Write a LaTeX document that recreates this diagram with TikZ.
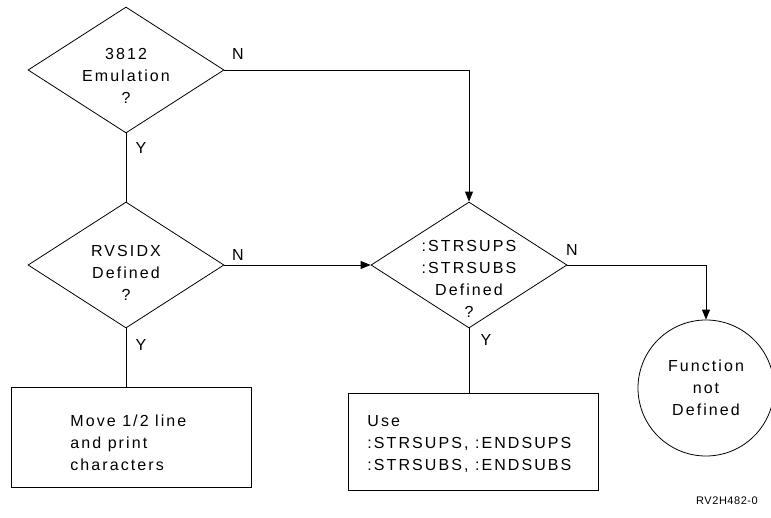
\documentclass[tikz,border=0pt]{standalone}
\usepackage{fontspec}
\setmainfont{Liberation Sans}[LetterSpace=13]
\newfontfamily\idfont{Liberation Sans}[LetterSpace=5]
\usetikzlibrary{shapes.geometric,arrows.meta}
\begin{document}
\begin{tikzpicture}[x=1pt,y=-1pt,
  line width=0.8pt,
  txt/.style={font=\fontsize{16}{22}\selectfont, align=center, inner sep=0pt},
  ltxt/.style={font=\fontsize{16}{22}\selectfont, align=left, inner sep=0pt, anchor=west},
  lbl/.style={font=\fontsize{16}{18}\selectfont, inner sep=0pt},
  dec/.style={diamond, draw, minimum width=196pt, minimum height=126pt, inner sep=0pt},
  boxx/.style={rectangle, draw, inner sep=0pt},
  arr/.style={-{Triangle[length=10pt,width=8pt]}}]
\useasboundingbox (0,0) rectangle (771,517);
% decisions
\node[dec] (d1) at (126,70) {};
\node[txt] (t1) at (126,76) {3812\\Emulation\\?};
\node[dec] (d2) at (126,265) {};
\node[txt] (t2) at (126,273) {RVSIDX\\Defined\\?};
\node[dec] (d3) at (469,265) {};
\node[txt] (t3) at (469,279) {:STRSUPS\\:STRSUBS\\Defined\\?};
% terminal circle
\node[circle, draw, minimum size=136pt, inner sep=0pt, font=\fontsize{16}{22}\selectfont, align=center] (c) at (706,388) {Function\\not\\Defined};
% boxes
\node[boxx, minimum width=240pt, minimum height=100pt] (b1) at (131,437) {};
\node[ltxt] (bt1) at (70,443) {Move 1/2 line\\and print\\characters};
\node[boxx, minimum width=250pt, minimum height=97pt] (b2) at (473,441.5) {};
\node[ltxt] (bt2) at (367,444) {Use\\:STRSUPS, :ENDSUPS\\:STRSUBS, :ENDSUBS};
% connectors
\draw[arr] (d1.east) -| (d3.north);
\draw (d1.south) -- (d2.north);
\draw[arr] (d2.east) -- (d3.west);
\draw (d2.south) -- (d2.south |- b1.north);
\draw (d3.south) -- (d3.south |- b2.north);
\draw[arr] (d3.east) -| (c.north);
% branch labels
\node[lbl] (n1) at (238,54) {N};
\node[lbl] (y1) at (141,148) {Y};
\node[lbl] (n2) at (238,255) {N};
\node[lbl] (y2) at (141,345) {Y};
\node[lbl] (n3) at (572,250) {N};
\node[lbl] (y3) at (486,340) {Y};
% figure id
\node[font=\idfont\fontsize{11}{13}\selectfont, inner sep=0pt] (fid) at (727,501) {RV2H482-0};
\end{tikzpicture}
\end{document}
